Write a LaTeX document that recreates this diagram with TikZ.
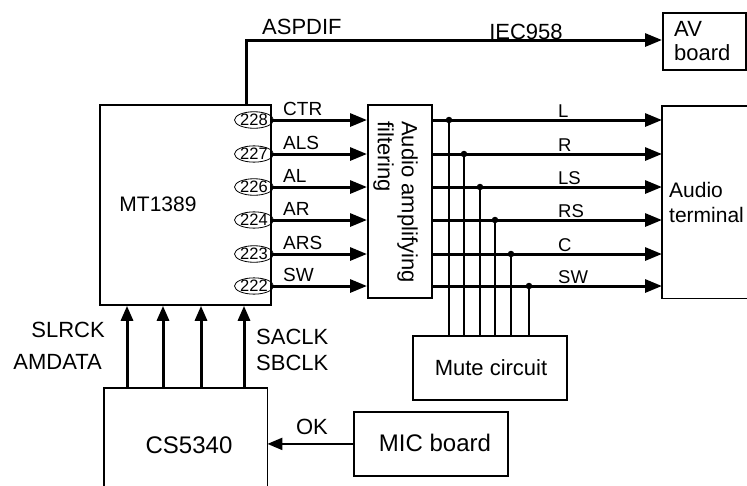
\documentclass[tikz,border=0pt]{standalone}
\usepackage{fontspec}
\setmainfont{Liberation Sans}
\usetikzlibrary{arrows.meta,shapes.geometric}
\begin{document}
\begin{tikzpicture}[x=1pt,y=-1pt,
  box/.style={draw,line width=1.8pt,inner sep=0pt,anchor=north west},
  openbox/.style={draw=none,inner sep=0pt,anchor=north west},
  side/.style={line width=1.8pt},
  sig/.style={line width=3pt,-{Triangle[length=17pt,width=13pt]}},
  upsig/.style={line width=3pt,-{Triangle[length=15pt,width=12pt]}},
  okarrow/.style={line width=2.2pt,-{Triangle[length=15pt,width=12pt]}},
  mutel/.style={line width=1.5pt},
  pin/.style={draw,ellipse,line width=0.8pt,inner sep=0pt,minimum width=32pt,minimum height=15pt,font=\fontsize{16.5}{16.5}\selectfont},
  lab/.style={inner sep=0pt,font=\fontsize{19}{19}\selectfont},
  rlab/.style={inner sep=0pt,font=\fontsize{18.5}{18.5}\selectfont},
  mid/.style={inner sep=0pt,font=\fontsize{22}{22}\selectfont},
  big/.style={inner sep=0pt,font=\fontsize{21}{25}\selectfont},
  dot/.style={circle,fill,inner sep=0pt,minimum size=6.5pt}
]
\useasboundingbox[fill=white] (0,0) rectangle (747,485);

% boxes
\node[box,minimum width=171pt,minimum height=200pt] (mt) at (99,104) {};
\node[box,minimum width=64pt,minimum height=193pt] (amp) at (367,104) {};
\node[openbox,minimum width=100pt,minimum height=192pt] (term) at (662,106) {};
\draw[side] (term.north east) -- (term.north west) -- (term.south west) -- (term.south east);
\node[box,minimum width=83pt,minimum height=57pt] (av) at (662,12) {};
\node[box,minimum width=154pt,minimum height=64pt] (mute) at (412,335) {};
\node[box,minimum width=154pt,minimum height=64pt] (mic) at (353,411) {};
\node[openbox,minimum width=163pt,minimum height=102pt] (cs) at (104,388) {};
\draw[side] (cs.south west) -- (cs.north west) -- (cs.north east) -- (cs.south east);

% box texts
\node[big,anchor=center] (mttxt) at (158,204) {MT1389};
\node[big,anchor=center,font=\fontsize{24}{25}\selectfont] (cstxt) at (189,445) {CS5340};
\node[big,anchor=center,font=\fontsize{22}{25}\selectfont] (mutetxt) at (491,368) {Mute circuit};
\node[big,anchor=center,font=\fontsize{24}{25}\selectfont] (mictxt) at (435,443) {MIC board};
\node[big,anchor=north west,align=left,font=\fontsize{22}{24}\selectfont] (avtxt) at (674,21) {AV\\board};
\node[big,anchor=north west,align=left] (termtxt) at (669,182) {Audio\\terminal};
\node[big,rotate=-90,anchor=north west,align=left,font=\fontsize{22}{24}\selectfont] (amptxt) at (418,121) {Audio amplifying\\filtering};

% pins and left signals
\foreach \n/\y/\s in {228/120/CTR,227/154/ALS,226/187/AL,224/220/AR,223/254/ARS,222/286/SW}{
  \node[pin] (p\n) at (254,\y) {\n};
  \draw[sig] (mt.east |- p\n) -- (amp.west |- p\n);
  \node[lab,anchor=west] (l\n) at (283,\y-11) {\s};
}

% right signals
\foreach \k/\y/\s/\x in {L/120/L/449,R/154/R/464,LS/187/LS/480,RS/220/RS/495,C/254/C/511,SW/286/SW/529}{
  \coordinate (r\k) at (432,\y);
  \draw[sig] (r\k) -- (term.west |- r\k);
  \node[rlab,anchor=west] (t\k) at (558,\y-9) {\s};
  \node[dot] (d\k) at (\x,\y) {};
  \draw[mutel] (d\k.center) -- (d\k.center |- mute.north);
}

% ASPDIF
\coordinate (aspc) at (246,40);
\draw[sig] (aspc |- mt.north) -- (aspc) -- (av.west |- aspc);
\node[mid,anchor=west] (asp) at (262,27) {ASPDIF};
\node[mid,anchor=center] (iec) at (526,32) {IEC958};

% up arrows from CS5340
\foreach \i/\x in {1/127,2/163,3/201,4/244}{
  \coordinate (u\i) at (\x,388);
  \draw[upsig] (u\i |- cs.north) -- (u\i |- mt.south);
}
\node[mid,anchor=east] (slrck) at (105,330) {SLRCK};
\node[mid,anchor=east] (amdata) at (102,362) {AMDATA};
\node[mid,anchor=west] (saclk) at (256,337) {SACLK};
\node[mid,anchor=west] (sbclk) at (256,363) {SBCLK};

% OK arrow
\draw[okarrow] (mic.west) -- (cs.east |- mic.west);
\node[mid,anchor=center] (ok) at (312,427) {OK};
\end{tikzpicture}
\end{document}
